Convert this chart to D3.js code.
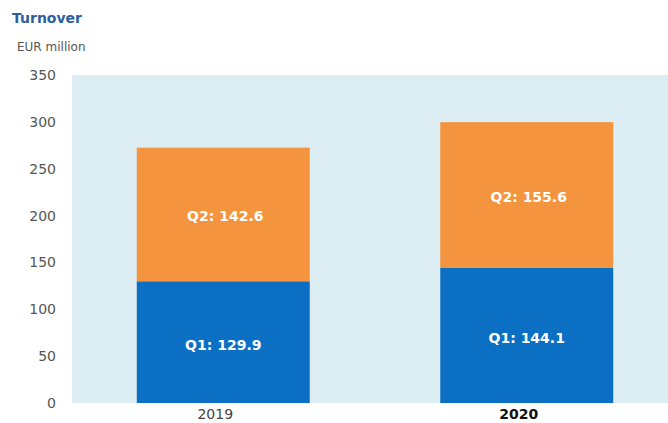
<!DOCTYPE html>
<html>
<head>
<meta charset="utf-8">
<script src="https://cdn.jsdelivr.net/npm/d3@7"></script>
<style>
  body { margin: 0; background: #fff; }
  text { font-family: "DejaVu Sans", Arial, sans-serif; }
</style>
</head>
<body>
<div id="chart"></div>
<script>
// data
const years = ["2019", "2020"];
const q1 = [129.9, 144.1];
const q2 = [142.6, 155.6];
const yTicks = [0, 50, 100, 150, 200, 250, 300, 350];

const W = 668, H = 423;
const margin = { top: 75, right: 0, bottom: 20, left: 72 };

const svg = d3.select("#chart").append("svg")
    .attr("width", W)
    .attr("height", H);

// plot background
svg.append("rect")
    .attr("x", margin.left)
    .attr("y", margin.top)
    .attr("width", W - margin.left)
    .attr("height", H - margin.bottom - margin.top)
    .attr("fill", "#dcedf3");

const x = d3.scaleBand()
    .domain(years)
    .range([margin.left, 678])
    .paddingInner(0.43)
    .paddingOuter(0.2135);

const y = d3.scaleLinear()
    .domain([0, 350])
    .range([H - margin.bottom, margin.top]);

// titles
svg.append("text")
    .attr("x", 12).attr("y", 23)
    .attr("font-size", 14).attr("font-weight", "bold")
    .attr("fill", "#2d5f9e")
    .text("Turnover");
svg.append("text")
    .attr("x", 17).attr("y", 51)
    .attr("font-size", 12)
    .attr("fill", "#555")
    .text("EUR million");

// y axis (labels only)
const yAxis = svg.append("g")
    .attr("transform", "translate(" + 56 + ",0)")
    .call(d3.axisLeft(y).tickValues(yTicks).tickSize(0).tickPadding(0));
yAxis.select(".domain").remove();
yAxis.selectAll("text")
    .attr("font-size", 14)
    .attr("fill", "#555")
    .style("font-family", "DejaVu Sans, Arial, sans-serif");

// bars
const rows = years.map((yr, i) => ({ year: yr, q1: q1[i], q2: q2[i] }));

const g = svg.append("g");
g.selectAll("rect.q1").data(rows).enter().append("rect")
    .attr("class", "q1")
    .attr("x", d => x(d.year))
    .attr("width", x.bandwidth())
    .attr("y", d => y(d.q1))
    .attr("height", d => y(0) - y(d.q1))
    .attr("fill", "#0b6fc4");
g.selectAll("rect.q2").data(rows).enter().append("rect")
    .attr("class", "q2")
    .attr("x", d => x(d.year))
    .attr("width", x.bandwidth())
    .attr("y", d => y(d.q1 + d.q2))
    .attr("height", d => y(d.q1) - y(d.q1 + d.q2))
    .attr("fill", "#f5943f");

// segment labels
g.selectAll("text.l1").data(rows).enter().append("text")
    .attr("x", d => x(d.year) + x.bandwidth() / 2)
    .attr("y", d => (y(0) + y(d.q1)) / 2 + 8)
    .attr("text-anchor", "middle")
    .attr("font-size", 14).attr("font-weight", "bold")
    .attr("fill", "#fff")
    .text(d => "Q1: " + d.q1.toFixed(1));
g.selectAll("text.l2").data(rows).enter().append("text")
    .attr("x", d => x(d.year) + x.bandwidth() / 2 + 2)
    .attr("y", d => (y(d.q1) + y(d.q1 + d.q2)) / 2 + 7)
    .attr("text-anchor", "middle")
    .attr("font-size", 14).attr("font-weight", "bold")
    .attr("fill", "#fff")
    .text(d => "Q2: " + d.q2.toFixed(1));

// x labels
svg.selectAll("text.xl").data(years).enter().append("text")
    .attr("x", d => x(d) + x.bandwidth() / 2 - 8)
    .attr("y", 419)
    .attr("text-anchor", "middle")
    .attr("font-size", 14)
    .attr("font-weight", (d, i) => i === 1 ? "bold" : "normal")
    .attr("fill", (d, i) => i === 1 ? "#111" : "#444")
    .text(d => d);
</script>
</body>
</html>
